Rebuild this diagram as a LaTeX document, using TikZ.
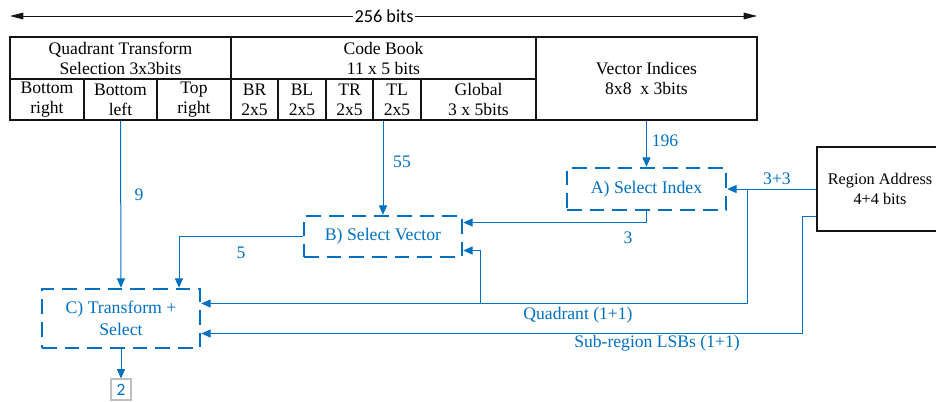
\documentclass[tikz,border=0pt]{standalone}
\usepackage{fontspec}
\setmainfont{Liberation Serif}
\newfontfamily\calfont{Carlito}
\usetikzlibrary{arrows.meta,calc}
\definecolor{figline}{RGB}{20,20,20}
\definecolor{figblue}{RGB}{0,112,192}
\tikzset{
  cell/.style ={draw=figline, line width=1.2pt, inner sep=0pt, align=center,
                font=\fontsize{13.2}{15}\selectfont},
  blk/.style  ={draw=figblue, line width=1.9pt, dash pattern=on 11pt off 6pt,
                inner sep=0pt, align=center, text=figblue,
                font=\fontsize{13.3}{16.5}\selectfont},
  arr/.style  ={draw=figblue, line width=0.75pt, -{Triangle[length=7pt,width=6pt]}},
  lab/.style  ={text=figblue, font=\fontsize{13.2}{15}\selectfont, inner sep=1pt},
  dim/.style  ={draw=figline, line width=0.7pt, -{Triangle[length=10pt,width=5pt]}},
}
\begin{document}
\begin{tikzpicture}[x=0.75pt,y=-0.75pt]
  \useasboundingbox (0,0) rectangle (936,401);
  % width of the record
  \node[font=\calfont\fontsize{13.7}{15}\selectfont, inner sep=1pt] (bits) at (384,16) {256 bits};
  \coordinate (dl) at (10,16);
  \coordinate (dr) at (757,16);
  \draw[dim] (bits.west) -- (dl);
  \draw[dim] (bits.east) -- (dr);
  % record fields
  \node[cell, minimum width=165.75pt, minimum height=31.5pt] (qts) at (120.5,58) {Quadrant Transform\\Selection 3x3bits};
  \node[cell, minimum width=228.75pt, minimum height=31.5pt] (cb) at (383.5,58) {Code Book\\11 x 5 bits};
  \node[cell, minimum width=165.75pt, minimum height=62.25pt] (vi) at (646.5,78.5) {Vector Indices\\8x8\ \ x 3bits};
  \node[cell, minimum width=55.5pt, minimum height=30.75pt] (br) at (47,99.5) {Bottom\\right};
  \node[cell, minimum width=54.75pt, minimum height=30.75pt] (bl) at (120.5,99.5) {Bottom\\left};
  \node[cell, minimum width=55.5pt, minimum height=30.75pt] (tr) at (194,99.5) {Top\\right};
  \node[cell, minimum width=35.25pt, minimum height=30.75pt] (cbr) at (254.5,99.5) {BR\\2x5};
  \node[cell, minimum width=36pt, minimum height=30.75pt] (cbl) at (302,99.5) {BL\\2x5};
  \node[cell, minimum width=35.25pt, minimum height=30.75pt] (ctr) at (349.5,99.5) {TR\\2x5};
  \node[cell, minimum width=36pt, minimum height=30.75pt] (ctl) at (397,99.5) {TL\\2x5};
  \node[cell, minimum width=86.25pt, minimum height=30.75pt] (glob) at (478.5,99.5) {Global\\3 x 5bits};
  % address
  \node[cell, minimum width=94.5pt, minimum height=63pt, font=\fontsize{12.2}{15}\selectfont] (reg) at (880,189) {Region Address\\4+4 bits};
  % stages
  \node[blk, minimum width=119.25pt, minimum height=31.5pt] (A) at (646.5,189) {A) Select Index};
  \node[blk, minimum width=118.5pt, minimum height=30.75pt] (B) at (383,236.5) {B) Select Vector};
  \node[blk, minimum width=118.5pt, minimum height=44.25pt] (C) at (121,318.5) {C) Transform +\\Select};
  \node[draw=black!25, line width=0.8pt, minimum width=15pt, minimum height=15.75pt, inner sep=0pt,
        text=figblue, font=\calfont\fontsize{13}{14}\selectfont] (out) at (121,389.5) {2};
  % flows
  \draw[arr] (bl.south) -- (C.north);
  \draw[arr] (B.north |- ctl.south) -- (B.north);
  \draw[arr] (vi.south) -- (A.north);
  \draw[arr] (reg.west) -- (A.east);
  \coordinate (qbr) at (747,189);
  \coordinate (qbv) at (480,303);
  \coordinate (sr) at (802,216);
  \draw[arr] (qbr) |- ($(C.east)+(0,-15)$);
  \draw[arr] (qbv) |- ($(B.east)+(0,14)$);
  \draw[arr] (reg.west |- sr) -- (sr) |- ($(C.east)+(0,15)$);
  \draw[arr] (A.south) |- ($(B.east)+(0,-14)$);
  \draw[arr] (B.west) -| ($(C.north)+(58,0)$);
  \draw[arr] (C.south) -- (out.north);
  % bit counts
  \node[lab] (n9) at (139,195) {9};
  \node[lab] (n55) at (402,162) {55};
  \node[lab] (n196) at (665,141) {196};
  \node[lab] (n33) at (777,179) {3+3};
  \node[lab] (n3) at (628,238) {3};
  \node[lab] (n5) at (241,253) {5};
  \node[lab] (nq) at (578,315) {Quadrant (1+1)};
  \node[lab] (ns) at (657,343) {Sub-region LSBs (1+1)};
\end{tikzpicture}
\end{document}
